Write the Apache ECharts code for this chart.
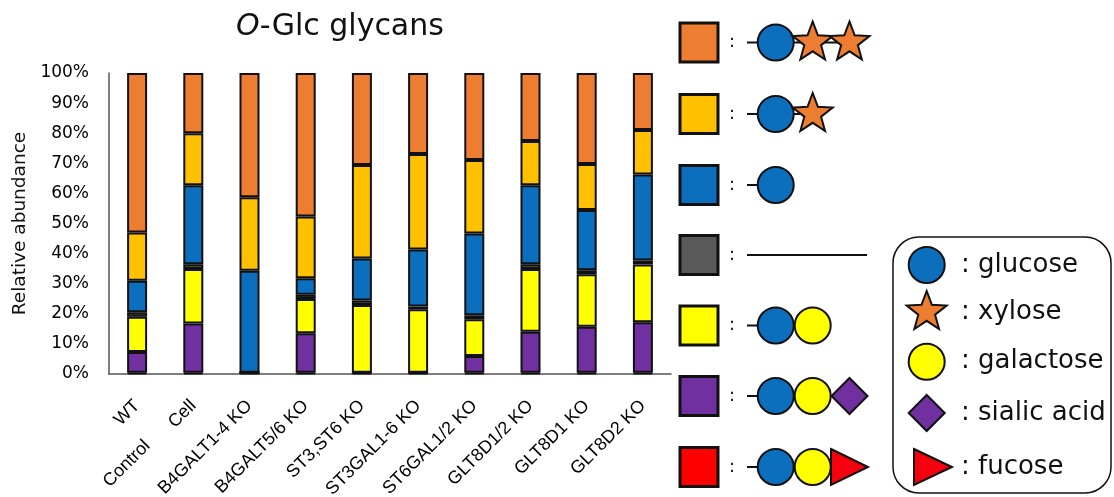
<!DOCTYPE html>
<html>
<head>
<meta charset="utf-8">
<script src="https://cdn.jsdelivr.net/npm/echarts@6/dist/echarts.min.js"></script>
<style>
html,body{margin:0;padding:0;background:#fff;}
#chart{width:1114px;height:497px;}
</style>
</head>
<body>
<div id="chart"></div>
<script>
// ---- data (bottom to top of each stacked bar) ----
const categories = ['WT','Cell','B4GALT1-4 KO','B4GALT5/6 KO','ST3,ST6 KO','ST3GAL1-6 KO','ST6GAL1/2 KO','GLT8D1/2 KO','GLT8D1 KO','GLT8D2 KO'];
const secondLine = ['Control','','','','','','','','',''];
const yTicks = [0,10,20,30,40,50,60,70,80,90,100];
const glcGalFuc   = [0.4,0.4,0.4,0.4,0.4,0.4,0.4,0.4,0.4,0.4];
const glcGalSia   = [6.9,16.4,0,13.1,0,0,5.6,13.6,15.3,16.8];
const glcGal      = [11.7,18.1,0,11.4,22.5,21.1,12.2,20.9,17.4,19.2];
const aglycone    = [1.5,1.6,0,1.4,1.5,0.9,1.3,1.6,1.4,1.3];
const glc         = [10.5,26.2,33.9,5.5,14,19,27.2,26.2,20,28.6];
const glcXyl      = [16,17.3,24.4,20.5,31,31.7,24.4,14.7,15.3,14.8];
const glcXylXyl   = [53,20,41.3,47.7,30.6,26.9,28.9,22.6,30.2,18.9];
const seriesNames = ['Glc-Gal-Fuc','Glc-Gal-Sia','Glc-Gal','none','Glc','Glc-Xyl','Glc-Xyl-Xyl'];
const seriesData  = [glcGalFuc,glcGalSia,glcGal,aglycone,glc,glcXyl,glcXylXyl];
const seriesColors = ['#FF0000','#7030A0','#FFFF00','#595959','#0B6FBE','#FFC000','#ED7D31'];

// ---- decorative legend helpers ----
const C = {blue:'#0B6FBE', yellow:'#FFFF00', orange:'#ED7D31', purple:'#7030A0', red:'#F5000F'};
function starPts(cx, cy, R, r){
  const pts=[];
  for(let i=0;i<10;i++){
    const a = -Math.PI/2 + i*Math.PI/5;
    const rad = i%2===0 ? R : r;
    pts.push([cx+rad*Math.cos(a), cy+rad*Math.sin(a)]);
  }
  return pts;
}
const stk = {stroke:'#111', lineWidth:2};
function circle(cx,cy,fill,r){return {type:'circle',shape:{cx:cx,cy:cy,r:r||18},style:Object.assign({fill:fill},stk)};}
function star(cx,cy,R){return {type:'polygon',shape:{points:starPts(cx,cy,R||21,(R||21)*0.42)},style:Object.assign({fill:C.orange},stk)};}
function diamond(cx,cy,h){h=h||18;return {type:'polygon',shape:{points:[[cx,cy-h],[cx+h,cy],[cx,cy+h],[cx-h,cy]]},style:Object.assign({fill:C.purple},stk)};}
function tri(x0,cy,w,h){return {type:'polygon',shape:{points:[[x0,cy-h/2],[x0+w,cy],[x0,cy+h/2]]},style:Object.assign({fill:C.red},stk)};}
function line(x1,y1,x2,y2){return {type:'line',shape:{x1:x1,y1:y1,x2:x2,y2:y2},style:{stroke:'#111',lineWidth:2}};}
function txt(x,y,s,size,align){return {type:'text',x:x,y:y,style:{text:s,fill:'#111',font:size+'px "DejaVu Sans"',align:align||'left',verticalAlign:'middle'}};}

const rowY = [42.5,114,185,255,325.5,396,467];
const rowColors = ['#ED7D31','#FFC000','#0B6FBE','#595959','#FFFF00','#7030A0','#FF0000'];
const cx1=775.7, cx2=812.7, cx3=849.5;
const g = [];
rowY.forEach(function(y,i){
  g.push({type:'rect',shape:{x:680,y:y-19.5,width:38,height:39},style:{fill:rowColors[i],stroke:'#111',lineWidth:3}});
  g.push(txt(732,y,':',18,'center'));
});
g.push(line(747,rowY[0],cx3,rowY[0])); g.push(circle(cx1,rowY[0],C.blue)); g.push(star(cx2,rowY[0])); g.push(star(cx3,rowY[0]));
g.push(line(747,rowY[1],cx2,rowY[1])); g.push(circle(cx1,rowY[1],C.blue)); g.push(star(cx2,rowY[1]));
g.push(line(747,rowY[2],cx1,rowY[2])); g.push(circle(cx1,rowY[2],C.blue));
g.push(line(747,rowY[3],867,rowY[3]));
g.push(line(747,rowY[4],cx1,rowY[4])); g.push(circle(cx1,rowY[4],C.blue)); g.push(circle(cx2,rowY[4],C.yellow));
g.push(line(747,rowY[5],cx1,rowY[5])); g.push(circle(cx1,rowY[5],C.blue)); g.push(circle(cx2,rowY[5],C.yellow)); g.push(diamond(cx3,rowY[5]));
g.push(line(747,rowY[6],cx1,rowY[6])); g.push(circle(cx1,rowY[6],C.blue)); g.push(circle(cx2,rowY[6],C.yellow)); g.push(tri(831,rowY[6],37,36));
g.push({type:'rect',shape:{x:893,y:237,width:218,height:256,r:26},style:{fill:'none',stroke:'#111',lineWidth:1.5}});
const keyX = 926.7;
const keyY = [265,312,361.7,413,467];
const keyNames = [': glucose',': xylose',': galactose',': sialic acid',': fucose'];
g.push(circle(keyX,keyY[0],C.blue));
g.push(star(keyX,keyY[1],21));
g.push(circle(keyX,keyY[2],C.yellow));
g.push(diamond(keyX,keyY[3],18));
g.push(tri(914,keyY[4],38,36));
keyNames.forEach(function(n,i){ g.push(txt(961,keyY[i],n,26,'left')); });

const chart = echarts.init(document.getElementById('chart'), null, {renderer:'canvas'});
chart.setOption({
  backgroundColor:'#fff',
  animation:false,
  title:{
    text:'{i|O}{n|-Glc glycans}',
    left:335, top:7, textAlign:'center',
    textStyle:{fontWeight:'normal',rich:{
      i:{fontFamily:'DejaVu Sans',fontSize:30,fontStyle:'italic',fontWeight:'normal',color:'#111'},
      n:{fontFamily:'DejaVu Sans',fontSize:30,fontWeight:'normal',color:'#111'}
    }}
  },
  grid:{left:109,right:443,top:73,bottom:123,containLabel:false,outerBoundsMode:'none'},
  xAxis:[{
    type:'category', data:categories,
    axisLine:{show:true,lineStyle:{color:'#555',width:1.5}},
    axisTick:{show:false},
    axisLabel:{interval:0,rotate:45,margin:29,color:'#000',fontFamily:'Liberation Sans',fontSize:18}
  },{
    type:'category', data:secondLine, position:'bottom',
    axisLine:{show:false}, axisTick:{show:false},
    axisLabel:{interval:0,rotate:45,margin:59,lineHeight:29,
      formatter:function(v){return v ? '\n'+v : '';},
      color:'#000',fontFamily:'Liberation Sans',fontSize:18}
  }],
  yAxis:{
    type:'value', min:yTicks[0], max:yTicks[yTicks.length-1], interval:10,
    name:'Relative abundance', nameLocation:'middle', nameGap:74,
    nameTextStyle:{fontFamily:'DejaVu Sans',fontSize:18.5,color:'#111'},
    axisLine:{show:true,lineStyle:{color:'#555',width:1.5}},
    axisTick:{show:false}, splitLine:{show:false},
    axisLabel:{formatter:'{value}%',margin:20,color:'#000',fontFamily:'DejaVu Sans',fontSize:17}
  },
  series: seriesData.map(function(d,i){
    return {name:seriesNames[i],type:'bar',stack:'all',data:d,barWidth:20,
      itemStyle:{color:seriesColors[i],borderColor:'#111',borderWidth:2}};
  }),
  graphic:{elements:g}
});
</script>
</body>
</html>
